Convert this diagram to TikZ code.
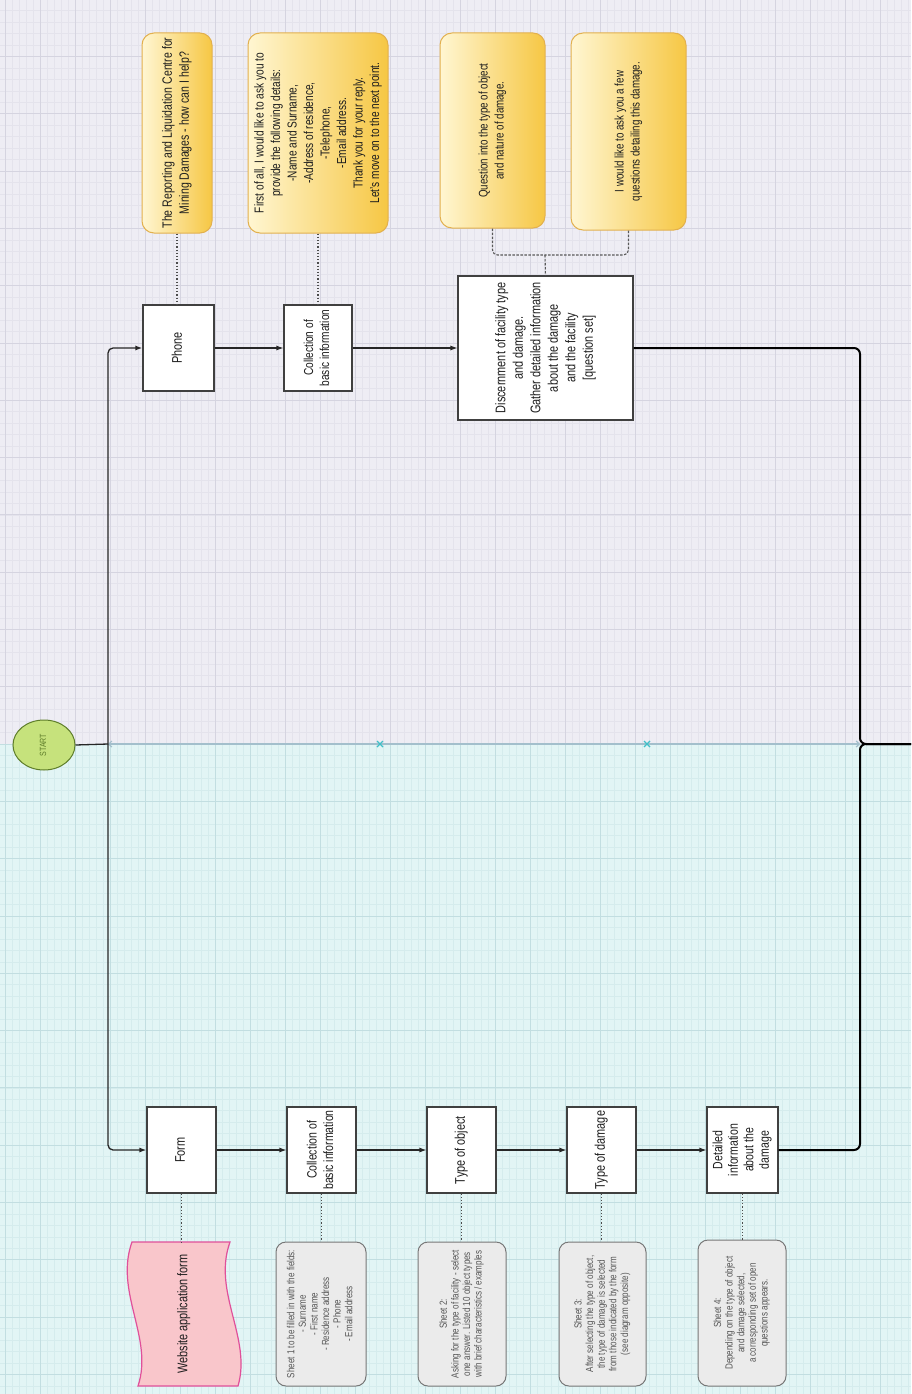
\documentclass[tikz,border=0pt]{standalone}
\usepackage{fontspec}
\setmainfont{Liberation Sans}[FakeStretch=0.78]
\usepackage{graphicx}
\usetikzlibrary{arrows.meta,shapes.geometric,calc}
\newcommand{\rtext}[3]{\rotatebox{90}{\fontsize{#1}{#2}\selectfont\begin{tabular}{@{}c@{}}#3\end{tabular}}}
\definecolor{bgtop}{HTML}{EEEDF4}
\definecolor{gridtopminor}{HTML}{E4E3EC}
\definecolor{gridtopmajor}{HTML}{D5D4E0}
\definecolor{bgbot}{HTML}{E2F5F5}
\definecolor{gridbotminor}{HTML}{D5ECED}
\definecolor{gridbotmajor}{HTML}{C2DEE1}
\definecolor{ylight}{HTML}{FFF6D2}
\definecolor{ydark}{HTML}{F6C744}
\definecolor{yborder}{HTML}{E2B04E}
\definecolor{notegray}{HTML}{EBEBEB}
\definecolor{noteborder}{HTML}{777777}
\definecolor{pinkfill}{HTML}{F9C6CB}
\definecolor{pinkborder}{HTML}{E0509A}
\definecolor{startfill}{HTML}{C6E27C}
\definecolor{startborder}{HTML}{5E7D2A}
\definecolor{sepcol}{HTML}{A3BFCC}
\definecolor{xmark}{HTML}{40BFC8}
\definecolor{txt}{HTML}{1E1E1E}
\definecolor{graytxt}{HTML}{555555}
\tikzset{
  procbox/.style={draw=black!75, line width=1.1pt, fill=white, inner sep=0pt, text=txt},
  ynote/.style={draw=yborder, line width=1pt, rounded corners=12pt, left color=ylight, right color=ydark, inner sep=0pt, text=txt},
  gnote/.style={draw=noteborder, line width=1pt, rounded corners=10pt, fill=notegray, inner sep=0pt, text=graytxt},
  flow/.style={draw=black!85, line width=1.1pt, -{Latex[length=7pt,width=5pt]}},
  trunkline/.style={draw=black!85, line width=1.3pt},
  boldline/.style={draw=black, line width=2pt, rounded corners=6pt},
  dotline/.style={draw=black!70, line width=1.2pt, dotted},
  dashline/.style={draw=black!65, line width=1.1pt, dashed, dash pattern=on 2.5pt off 1.5pt, rounded corners=5pt},
}
\begin{document}
\begin{tikzpicture}[x=1pt,y=-1pt]
\useasboundingbox (0,0) rectangle (911,1394);
% backgrounds
\fill[bgtop] (0,0) rectangle (911,744);
\fill[bgbot] (0,744) rectangle (911,1394);
% grid minor
\foreach \i in {0,...,130} {
  \draw[gridtopminor, line width=0.5pt] (\i*7+5,0) -- (\i*7+5,744);
  \draw[gridbotminor, line width=0.5pt] (\i*7+5,744) -- (\i*7+5,1394);
}
\foreach \k in {0,...,65} {
  \draw[gridtopminor, line width=0.5pt] (0,744-\k*11.46) -- (911,744-\k*11.46);
}
\foreach \k in {0,...,57} {
  \draw[gridbotminor, line width=0.5pt] (0,744+\k*11.46) -- (911,744+\k*11.46);
}
% grid major
\foreach \i in {0,...,26} {
  \draw[gridtopmajor, line width=0.8pt] (\i*35+5,0) -- (\i*35+5,744);
  \draw[gridbotmajor, line width=0.8pt] (\i*35+5,744) -- (\i*35+5,1394);
}
\foreach \k in {0,...,13} {
  \draw[gridtopmajor, line width=0.8pt] (0,744-\k*57.3) -- (911,744-\k*57.3);
}
\foreach \k in {0,...,11} {
  \draw[gridbotmajor, line width=0.8pt] (0,744+\k*57.3) -- (911,744+\k*57.3);
}

% coordinates
\coordinate (trunk) at (108,744);
\coordinate (merge) at (860,744);
\coordinate (exit) at (911,744);
\coordinate (br) at (545,255);

% separator
\draw[sepcol, line width=1.2pt, {Straight Barb[length=3pt,width=6pt]}-{Straight Barb[length=3pt,width=6pt]}] (trunk) -- (merge);
\foreach \xx in {380,647} {
  \draw[xmark, line width=1.2pt] (\xx-3,741) -- (\xx+3,747) (\xx-3,747) -- (\xx+3,741);
}

% start
\node[ellipse, draw=startborder, line width=1pt, fill=startfill, minimum width=62pt, minimum height=50pt, inner sep=0pt, text=startborder] (start) at (44,745) {\rtext{9}{10}{START}};

% phone row
\node[procbox, minimum width=71pt, minimum height=86pt] (phone) at (178.5,348) {\rtext{14}{17}{Phone}};
\node[procbox, minimum width=68pt, minimum height=86pt] (coll1) at (318,348) {\rtext{13}{16}{Collection of\\basic information}};
\node[procbox, minimum width=175pt, minimum height=144pt] (disc) at (545.5,348) {\rtext{14}{17.5}{Discernment of facility type\\and damage.\\Gather detailed information\\about the damage\\and the facility\\{[}question set{]}}};

% yellow notes
\node[ynote, minimum width=70pt, minimum height=200pt] (n1) at (177,133) {\rtext{13.5}{17}{The Reporting and Liquidation Centre for\\Mining Damages - how can I help?}};
\node[ynote, minimum width=140pt, minimum height=200pt] (n2) at (318,133) {\rtext{13}{16.5}{First of all, I would like to ask you to\\provide the following details:\\-Name and Surname,\\-Address of residence,\\-Telephone,\\-Email address.\\Thank you for your reply.\\Let's move on to the next point.}};
\node[ynote, minimum width=105pt, minimum height=195pt] (n3) at (492.5,130.5) {\raisebox{0pt}{\rtext{12.5}{16}{Question into the type of object\\and nature of damage.}}};
\node[ynote, minimum width=115pt, minimum height=197pt] (n4) at (628.5,131.5) {\rtext{12.5}{16}{I would like to ask you a few\\questions detailing this damage.}};

% bottom row
\node[procbox, minimum width=69pt, minimum height=86pt] (form) at (181.5,1150) {\rtext{14}{17}{Form}};
\node[procbox, minimum width=69pt, minimum height=86pt] (coll2) at (321.5,1150) {\rtext{13.5}{16.5}{Collection of\\basic information}};
\node[procbox, minimum width=69pt, minimum height=86pt] (tobj) at (461.5,1150) {\rtext{14}{17}{Type of object}};
\node[procbox, minimum width=69pt, minimum height=86pt] (tdmg) at (601.5,1150) {\rtext{14}{17}{Type of damage}};
\node[procbox, minimum width=71pt, minimum height=86pt] (det) at (742.5,1150) {\rtext{13.5}{15.5}{Detailed\\information\\about the\\damage}};

% website application form (wavy document)
\draw[draw=pinkborder, line width=1.2pt, fill=pinkfill]
  (132,1242) -- (230,1242) .. controls (212,1292) and (252,1338) .. (238,1386)
  -- (138,1386) .. controls (154,1338) and (114,1292) .. (132,1242) -- cycle;
\node[text=txt, inner sep=0pt] (web) at (184,1314) {\rtext{14}{17}{Website application form}};
\coordinate (webtop) at (181.5,1242);

% gray notes
\node[gnote, minimum width=90pt, minimum height=144pt] (ga) at (321,1314) {\rtext{10.3}{11.6}{Sheet 1 to be filled in with the fields:\\- Surname\\- First name\\- Residence address\\- Phone\\- Email address}};
\node[gnote, minimum width=88pt, minimum height=144pt] (gb) at (462,1314) {\rtext{10.3}{11.6}{Sheet 2:\\Asking for the type of facility - select\\one answer. Listed 10 object types\\with brief characteristics / examples}};
\node[gnote, minimum width=87pt, minimum height=144pt] (gc) at (602.5,1314) {\rtext{10.3}{11.6}{Sheet 3:\\After selecting the type of object,\\the type of damage is selected\\from those indicated by the form\\(see diagram opposite)}};
\node[gnote, minimum width=88pt, minimum height=146pt] (gd) at (742,1313) {\rtext{10.3}{11.6}{Sheet 4:\\Depending on the type of object\\and damage selected,\\a corresponding set of open\\questions appears.}};

% connectors
\draw[trunkline] (start.east) -- (trunk);
\draw[flow, line width=1.3pt, rounded corners=5pt] (trunk) |- (phone.west);
\draw[flow, line width=1.3pt, rounded corners=5pt] (trunk) |- (form.west);
\draw[flow] (phone.east) -- (coll1.west);
\draw[flow] (coll1.east) -- (disc.west);
\draw[flow] (form.east) -- (coll2.west);
\draw[flow] (coll2.east) -- (tobj.west);
\draw[flow] (tobj.east) -- (tdmg.west);
\draw[flow] (tdmg.east) -- (det.west);
\draw[boldline] (disc.east) -| (merge) -- (exit);
\draw[boldline] (det.east) -| (merge) -- (exit);

% annotation links
\draw[dotline] (n1.south) -- (n1.south |- phone.north);
\draw[dotline] (n2.south) -- (coll1.north);
\draw[dashline] (n3.south) |- (br);
\draw[dashline] (n4.south) |- (br);
\draw[dashline] (br) -- (disc.north);
\draw[dotline] (form.south) -- (webtop);
\draw[dotline] (coll2.south) -- (coll2.south |- ga.north);
\draw[dotline] (tobj.south) -- (tobj.south |- gb.north);
\draw[dotline] (tdmg.south) -- (tdmg.south |- gc.north);
\draw[dotline] (det.south) -- (det.south |- gd.north);
\end{tikzpicture}
\end{document}
